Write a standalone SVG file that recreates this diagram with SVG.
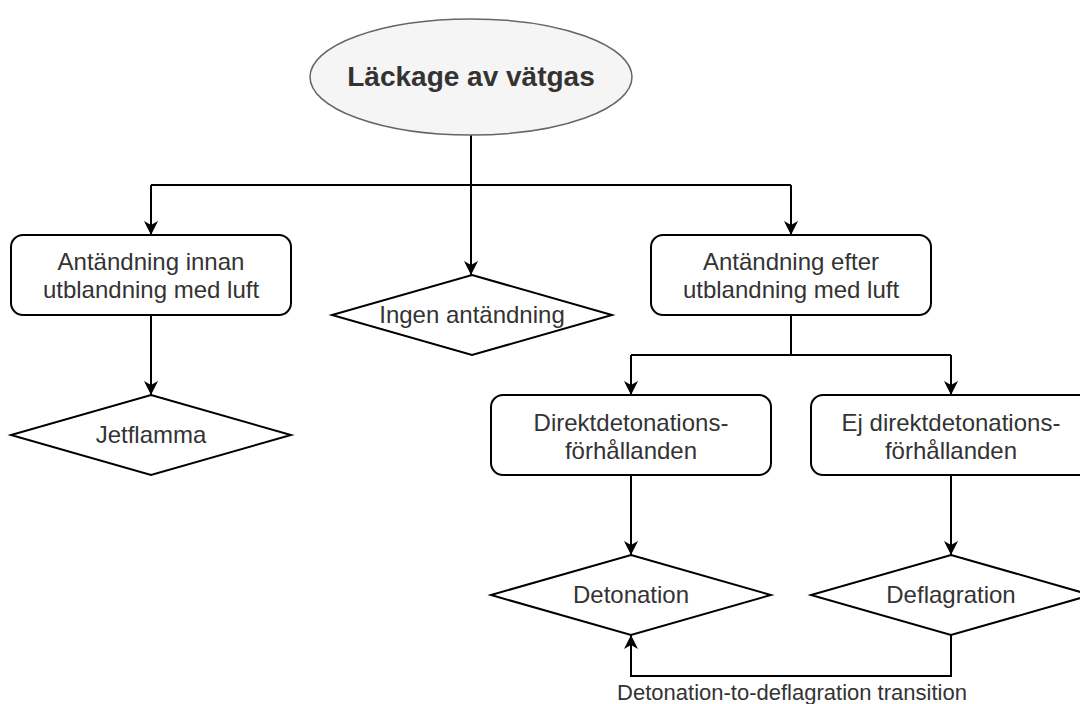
<svg xmlns="http://www.w3.org/2000/svg" width="1080" height="704" viewBox="0 0 1080 704">
<style>
.box{fill:#fff;stroke:#000;stroke-width:2}
.t{font-family:"Liberation Sans",Arial,sans-serif;font-size:24px;fill:#333;text-anchor:middle}
.c{fill:none;stroke:#000;stroke-width:2}
</style>
<defs>
<marker id="arr" markerWidth="16" markerHeight="16" viewBox="0 0 16 16" refX="15" refY="8" orient="auto" markerUnits="userSpaceOnUse">
<path d="M15,8 L1,1 L5,8 L1,15 Z" fill="#000"/>
</marker>
</defs>
<rect width="1080" height="704" fill="#fff"/>
<g id="connectors">
<path class="c" d="M471,135 V275" marker-end="url(#arr)"/>
<path class="c" d="M151,185 H791"/>
<path class="c" d="M151,185 V235" marker-end="url(#arr)"/>
<path class="c" d="M791,185 V235" marker-end="url(#arr)"/>
<path class="c" d="M151,315 V395" marker-end="url(#arr)"/>
<path class="c" d="M791,315 V355"/>
<path class="c" d="M631,355 H951"/>
<path class="c" d="M631,355 V395" marker-end="url(#arr)"/>
<path class="c" d="M951,355 V395" marker-end="url(#arr)"/>
<path class="c" d="M631,475 V555" marker-end="url(#arr)"/>
<path class="c" d="M951,475 V555" marker-end="url(#arr)"/>
<path class="c" d="M951,635 V676 H631 V635" marker-end="url(#arr)"/>
<text class="t" x="792" y="700" style="font-size:22px">Detonation-to-deflagration transition</text>
</g>
<g id="start">
<ellipse cx="471" cy="77" rx="161" ry="58" fill="#f5f5f5" stroke="#666" stroke-width="1.5"/>
<text class="t" x="471" y="86" style="font-size:28px;font-weight:bold">Läckage av vätgas</text>
</g>
<g id="innan">
<rect class="box" x="11" y="235" width="280" height="80" rx="12"/>
<text class="t" x="151" y="270">Antändning innan</text>
<text class="t" x="151" y="298">utblandning med luft</text>
</g>
<g id="jetflamma">
<polygon class="box" points="151,395 291,435 151,475 11,435"/>
<text class="t" x="151" y="443">Jetflamma</text>
</g>
<g id="ingen">
<polygon class="box" points="472,275 612,315 472,355 332,315"/>
<text class="t" x="472" y="323">Ingen antändning</text>
</g>
<g id="efter">
<rect class="box" x="651" y="235" width="280" height="80" rx="12"/>
<text class="t" x="791" y="270">Antändning efter</text>
<text class="t" x="791" y="298">utblandning med luft</text>
</g>
<g id="direkt">
<rect class="box" x="491" y="395" width="280" height="80" rx="12"/>
<text class="t" x="631" y="431">Direktdetonations-</text>
<text class="t" x="631" y="459">förhållanden</text>
</g>
<g id="ejdirekt">
<rect class="box" x="811" y="395" width="280" height="80" rx="12"/>
<text class="t" x="951" y="431">Ej direktdetonations-</text>
<text class="t" x="951" y="459">förhållanden</text>
</g>
<g id="detonation">
<polygon class="box" points="631,555 771,595 631,635 491,595"/>
<text class="t" x="631" y="603">Detonation</text>
</g>
<g id="deflagration">
<polygon class="box" points="951,555 1091,595 951,635 811,595"/>
<text class="t" x="951" y="603">Deflagration</text>
</g>
</svg>
